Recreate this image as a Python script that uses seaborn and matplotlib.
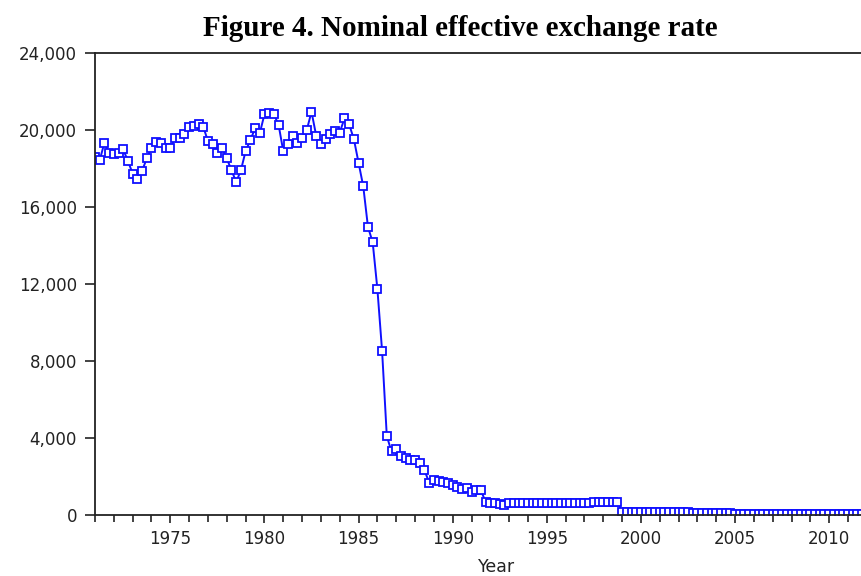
import numpy as np
import pandas as pd
import matplotlib
matplotlib.use("Agg")
import matplotlib.pyplot as plt
import matplotlib.ticker as mticker
import seaborn as sns

# quarterly observations, 1971Q1 onwards (one row per year)
neer = [
    18600, 18430, 19340, 18820,  # 1971
    18740, 18830, 18990, 18380,  # 1972
    17740, 17440, 17880, 18520,  # 1973
    19080, 19390, 19300, 19090,  # 1974
    19090, 19560, 19600, 19790,  # 1975
    20170, 20220, 20310, 20170,  # 1976
    19420, 19250, 18820, 19090,  # 1977
    18520, 17910, 17300, 17910,  # 1978
    18900, 19470, 20080, 19820,  # 1979
    20810, 20870, 20810, 20280,  # 1980
    18900, 19250, 19700, 19300,  # 1981
    19600, 20000, 20950, 19700,  # 1982
    19250, 19530, 19790, 19940,  # 1983
    19870, 20600, 20290, 19530,  # 1984
    18310, 17070, 14960, 14170,  # 1985
    11740, 8520, 4100, 3300,     # 1986
    3440, 3050, 2960, 2870,      # 1987
    2840, 2720, 2330, 1680,      # 1988
    1830, 1770, 1720, 1640,      # 1989
    1580, 1480, 1340, 1380,      # 1990
    1180, 1320, 1280, 670,       # 1991
    640, 640, 580, 520,          # 1992
    610, 610, 610, 610,          # 1993
    610, 610, 610, 610,          # 1994
    610, 610, 610, 610,          # 1995
    610, 610, 610, 610,          # 1996
    610, 610, 690, 700,          # 1997
    700, 700, 700, 690,          # 1998
    170, 170, 170, 170,          # 1999
    170, 170, 170, 170,          # 2000
    170, 170, 170, 170,          # 2001
    170, 170, 170, 120,          # 2002
    120, 120, 120, 120,          # 2003
    120, 120, 120, 120,          # 2004
    70, 70, 70, 70,              # 2005
    70, 70, 70, 70,              # 2006
    70, 70, 70, 70,              # 2007
    70, 70, 70, 70,              # 2008
    70, 70, 70, 70,              # 2009
    70, 70, 70, 70,              # 2010
    70, 70, 70, 70,              # 2011
    70, 70,                      # 2012
]
periods = pd.period_range("1971Q1", periods=len(neer), freq="Q")
year_pos = periods.year + (periods.quarter - 1) / 4

y_ticks = [0, 4000, 8000, 12000, 16000, 20000, 24000]
x_major = [1975, 1980, 1985, 1990, 1995, 2000, 2005, 2010]

df = pd.DataFrame({"Year": year_pos, "NEER": neer})

sns.set_style("ticks")
plt.rcParams["font.family"] = ["DejaVu Sans"]

fig = plt.figure(figsize=(8.62, 5.76), dpi=100)
ax = fig.add_axes([95 / 862, 61 / 576, 1 - 95 / 862 + 0.01, 462 / 576])

sns.lineplot(data=df, x="Year", y="NEER", ax=ax, color="#1010ff", linewidth=1.4,
             marker="s", markersize=6, markerfacecolor="white",
             markeredgecolor="#1010ff", markeredgewidth=1.3)

ax.set_xlim(1971, 2012.2)
ax.set_ylim(0, 24000)
ax.set_yticks(y_ticks)
ax.yaxis.set_major_formatter(mticker.StrMethodFormatter("{x:,.0f}"))
ax.set_xticks(x_major)
ax.xaxis.set_minor_locator(mticker.MultipleLocator(1))
ax.tick_params(axis="both", which="major", labelsize=12, length=6, width=1.2,
               color="#222222", labelcolor="#222222", direction="out")
ax.tick_params(axis="x", which="minor", length=5, width=1.2, color="#222222")
ax.tick_params(axis="x", pad=5)
ax.tick_params(axis="y", which="major", length=7, pad=6)

for side in ["left", "top", "bottom"]:
    ax.spines[side].set_linewidth(1.3)
    ax.spines[side].set_color("#222222")
ax.spines["right"].set_visible(False)

ax.set_xlabel("")
ax.set_ylabel("")
fig.text(497 / 862, 9 / 576, "Year", ha="center", va="center", fontsize=12.5,
         color="#222222")
fig.text(460 / 862, 1 - 28 / 576, "Figure 4. Nominal effective exchange rate",
         ha="center", va="center", fontsize=21, fontweight="bold",
         color="black", family="Liberation Serif")

fig.savefig("out.png", dpi=100)
